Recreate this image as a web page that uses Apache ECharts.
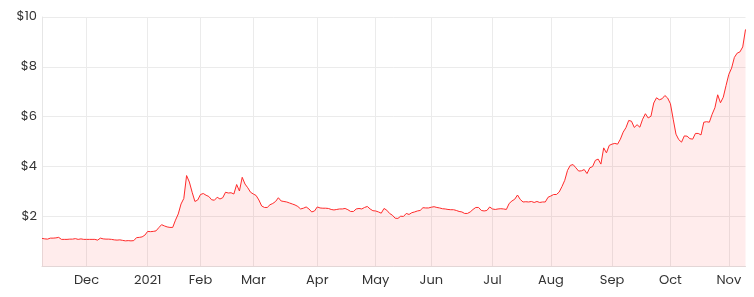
<!DOCTYPE html>
<html>
<head>
<meta charset="utf-8">
<script src="https://cdn.jsdelivr.net/npm/echarts@6/dist/echarts.min.js"></script>
<style>html,body{margin:0;padding:0;background:#fff}#c{width:754px;height:297px}</style>
</head>
<body>
<div id="c"></div>
<script>
// Trading-day categories: Nov 6, 2020 -> Nov 9, 2021 (weekdays minus US market holidays)
const startDate = '2020-11-06';
const endDate = '2021-11-09';
const holidays = ['2020-11-26','2020-12-25','2021-01-01','2021-01-18','2021-02-15','2021-04-02','2021-05-31','2021-07-05','2021-09-06'];
const monthLabels = ['2021','Feb','Mar','Apr','May','Jun','Jul','Aug','Sep','Oct','Nov','Dec'];
const yTicks = [0, 2, 4, 6, 8, 10];

// Closing prices (USD), one per trading day
const prices = [
1.12,1.10,1.09,1.13,1.13,1.14,1.16,1.08,1.08,1.08,1.09,1.09,1.11,1.08,1.10,1.08,
1.08,1.08,1.08,1.08,1.05,1.13,1.10,1.09,1.09,1.08,1.06,1.05,1.06,1.04,1.02,1.03,1.02,1.03,1.15,1.16,1.18,1.25,
1.40,1.39,1.40,1.42,1.55,1.67,1.62,1.58,1.56,1.56,1.85,2.10,2.50,2.72,3.64,3.38,2.97,2.60,2.66,
2.88,2.92,2.85,2.80,2.67,2.65,2.77,2.70,2.75,2.97,2.94,2.95,2.90,3.28,3.02,3.57,3.30,3.15,2.97,
2.90,2.84,2.66,2.42,2.36,2.36,2.47,2.52,2.60,2.75,2.62,2.60,2.58,2.54,2.50,2.46,2.40,2.30,2.33,2.38,2.30,2.18,2.22,
2.38,2.34,2.33,2.33,2.32,2.28,2.26,2.28,2.30,2.30,2.32,2.27,2.20,2.20,2.30,2.32,2.30,2.36,2.40,2.30,2.23,
2.22,2.18,2.13,2.32,2.25,2.12,2.05,1.93,1.92,2.01,2.00,2.12,2.08,2.15,2.18,2.22,2.24,2.35,2.34,2.34,
2.37,2.39,2.36,2.34,2.31,2.30,2.28,2.27,2.27,2.24,2.20,2.18,2.12,2.12,2.18,2.28,2.36,2.36,2.24,2.22,2.24,2.38,
2.30,2.28,2.30,2.31,2.30,2.28,2.52,2.62,2.69,2.86,2.68,2.58,2.59,2.58,2.60,2.56,2.60,2.56,2.58,2.58,2.77,
2.82,2.88,2.88,2.98,3.20,3.45,3.85,4.05,4.08,3.95,3.82,3.83,3.88,3.72,3.95,4.00,4.25,4.30,4.10,4.75,4.55,4.85,
4.90,4.93,4.90,5.10,5.38,5.56,5.85,5.82,5.57,5.68,5.58,5.90,6.12,5.95,6.02,6.55,6.76,6.68,6.72,6.85,6.75,
6.52,5.90,5.30,5.08,4.98,5.23,5.22,5.12,5.10,5.33,5.33,5.27,5.78,5.80,5.78,6.10,6.36,6.88,6.56,6.78,7.25,
7.70,7.95,8.38,8.55,8.60,8.80,9.50
];

function fmt(d){return d.toISOString().slice(0,10);}
const dates = [];
for (let d = new Date(startDate + 'T00:00:00Z'); fmt(d) <= endDate; d.setUTCDate(d.getUTCDate() + 1)) {
  const wd = d.getUTCDay();
  if (wd === 0 || wd === 6) continue;
  if (holidays.indexOf(fmt(d)) >= 0) continue;
  dates.push(fmt(d));
}
// first trading day of each month (excluding the first partial month)
const monthStart = {};
for (let i = 1; i < dates.length; i++) {
  if (dates[i].slice(0,7) !== dates[i-1].slice(0,7)) monthStart[i] = true;
}
function labelFor(ds){
  const m = parseInt(ds.slice(5,7), 10);
  return m === 1 ? ds.slice(0,4) : monthLabels[m - 1];
}

const chart = echarts.init(document.getElementById('c'));
const fontFamily = 'Poppins, "Open Sans", sans-serif';
chart.setOption({
  animation: false,
  backgroundColor: '#fff',
  grid: { left: 42, right: 8.5, top: 17, bottom: 30.7, containLabel: false },
  xAxis: {
    type: 'category',
    data: dates,
    boundaryGap: false,
    axisLine: { show: true, lineStyle: { color: '#e3dada', width: 1 } },
    axisTick: { show: false },
    axisLabel: {
      interval: function (i) { return !!monthStart[i]; },
      formatter: function (v) { return labelFor(v); },
      color: '#333', fontSize: 13, fontFamily: fontFamily, margin: 8
    },
    splitLine: {
      show: true,
      interval: function (i) { return !!monthStart[i]; },
      lineStyle: { color: '#ebebeb', width: 1 }
    }
  },
  yAxis: {
    type: 'value',
    min: yTicks[0], max: yTicks[yTicks.length - 1], interval: 2,
    axisLine: { show: true, lineStyle: { color: '#e6e6e6' } },
    axisTick: { show: false },
    axisLabel: {
      formatter: function (v) { return v === 0 ? '' : '$' + v; },
      color: '#333', fontSize: 13, fontFamily: fontFamily, margin: 5
    },
    splitLine: { show: true, lineStyle: { color: '#ebebeb', width: 1 } }
  },
  series: [{
    type: 'line',
    data: prices,
    symbol: 'none',
    smooth: false,
    lineStyle: { color: '#ff2b2b', width: 1 },
    areaStyle: { color: 'rgba(255, 40, 40, 0.12)' }
  }]
});
</script>
</body>
</html>
